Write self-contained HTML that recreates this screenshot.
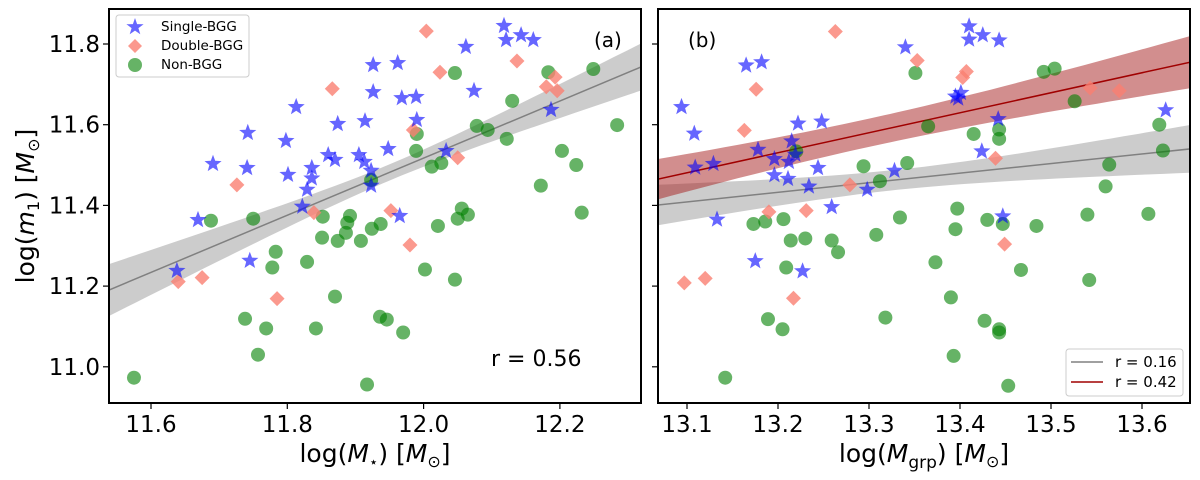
<!DOCTYPE html>
<html><head><meta charset="utf-8"><style>
html,body{margin:0;padding:0;background:#fff;}
svg{display:block;font-family:"DejaVu Sans","Liberation Sans",sans-serif;}
</style></head><body>
<svg id="fig" width="1200" height="480" viewBox="0 0 1200 480" xmlns="http://www.w3.org/2000/svg">
<g id="pa"></g>
<g id="pb"></g>
</svg>
<script>
// ---- Panel (a) data: log(M*) vs log(m1)
const aStarX=[11.691,11.742,11.741,11.813,11.798,11.801,11.836,11.836,11.829,11.822,11.669,11.860,11.870,11.874,11.914,11.926,11.926,11.905,11.913,11.923,11.923,11.962,11.948,11.968,11.989,11.990,11.965,12.033,12.062,12.074,12.118,12.121,12.143,12.161,12.187,11.638,11.745];
const aStarY=[11.503,11.580,11.493,11.644,11.560,11.476,11.493,11.467,11.439,11.397,11.364,11.525,11.513,11.602,11.609,11.748,11.681,11.525,11.508,11.486,11.449,11.753,11.540,11.666,11.669,11.612,11.374,11.535,11.793,11.684,11.845,11.810,11.822,11.810,11.637,11.238,11.263];
const aDiaX=[12.004,12.024,11.866,11.726,11.985,12.050,12.137,12.180,12.193,12.196,11.839,11.952,11.640,11.675,11.785,11.980];
const aDiaY=[11.832,11.730,11.689,11.451,11.587,11.518,11.758,11.694,11.718,11.684,11.382,11.387,11.211,11.221,11.169,11.302];
const aCirX=[12.046,12.130,12.183,12.249,12.284,12.078,12.094,12.122,11.990,11.989,12.012,12.026,11.923,12.172,12.203,12.224,12.232,11.688,11.750,11.852,11.892,12.056,12.065,12.050,11.886,11.888,11.924,11.937,12.021,11.851,11.874,11.908,11.783,11.778,11.829,12.002,12.046,11.870,11.738,11.769,11.842,11.936,11.946,11.970,11.757,11.575,11.917];
const aCirY=[11.728,11.659,11.730,11.738,11.599,11.597,11.587,11.565,11.577,11.535,11.496,11.505,11.463,11.449,11.535,11.500,11.382,11.362,11.367,11.372,11.374,11.392,11.377,11.367,11.332,11.357,11.342,11.354,11.349,11.320,11.312,11.312,11.285,11.246,11.260,11.241,11.216,11.174,11.119,11.095,11.095,11.124,11.117,11.085,11.030,10.973,10.956];
const aFit=[11.538,11.19,12.319,11.743]; // x0,y0,x1,y1
const aBand=[11.95,0.02,0.022]; // center, min half-width, curvature
// ---- Panel (b) data: log(Mgrp) vs log(m1)
const bStarX=[13.094,13.108,13.165,13.182,13.109,13.129,13.178,13.196,13.215,13.212,13.222,13.248,13.196,13.211,13.219,13.244,13.234,13.259,13.298,13.328,13.340,13.395,13.401,13.398,13.410,13.410,13.425,13.443,13.442,13.424,13.626,13.447,13.133,13.175,13.227];
const bStarY=[11.644,11.578,11.747,11.755,11.494,11.503,11.538,11.515,11.559,11.508,11.603,11.608,11.475,11.466,11.526,11.493,11.447,11.396,11.439,11.486,11.792,11.670,11.679,11.665,11.844,11.811,11.822,11.809,11.614,11.534,11.636,11.373,11.365,11.262,11.237];
const bDiaX=[13.263,13.176,13.163,13.353,13.403,13.407,13.543,13.575,13.439,13.279,13.190,13.231,13.097,13.120,13.217,13.449];
const bDiaY=[11.831,11.688,11.586,11.759,11.717,11.732,11.691,11.684,11.517,11.451,11.384,11.387,11.208,11.219,11.170,11.304];
const bCirX=[13.351,13.492,13.504,13.526,13.365,13.415,13.443,13.443,13.619,13.623,13.564,13.560,13.220,13.294,13.342,13.312,13.397,13.173,13.186,13.206,13.334,13.430,13.447,13.484,13.540,13.607,13.214,13.230,13.259,13.266,13.308,13.395,13.373,13.467,13.542,13.209,13.390,13.189,13.205,13.318,13.427,13.443,13.443,13.393,13.142,13.453];
const bCirY=[11.728,11.731,11.739,11.658,11.596,11.577,11.588,11.565,11.600,11.536,11.501,11.447,11.534,11.497,11.505,11.460,11.392,11.354,11.360,11.366,11.370,11.364,11.354,11.349,11.377,11.379,11.313,11.318,11.313,11.284,11.327,11.341,11.259,11.240,11.215,11.246,11.172,11.118,11.093,11.122,11.114,11.093,11.085,11.027,10.973,10.953];
const bGrayFit=[13.068,11.401,13.653,11.540];
const bGrayBand=[13.33,0.025,0.0277];
const bRedFit=[13.068,11.465,13.653,11.755];
const bRedBand=[13.30,0.035,0.0237];
const yTicks=[11.0,11.2,11.4,11.6,11.8];
const aXTicks=[11.6,11.8,12.0,12.2];
const bXTicks=[13.1,13.2,13.3,13.4,13.5,13.6];

const NS="http://www.w3.org/2000/svg";
function mk(tag,attrs,parent){const e=document.createElementNS(NS,tag);for(const k in attrs)e.setAttribute(k,attrs[k]);parent.appendChild(e);return e;}
const TOP=9,BOT=403;
function yS(v){return 44+(11.8-v)*403.5;}
const aX=v=>151+(v-11.6)*681.5;
const bX=v=>687+(v-13.1)*910;

function star(cx,cy,r){let p=[];for(let i=0;i<10;i++){const rr=i%2?r*0.42:r;const a=-Math.PI/2+i*Math.PI/5;p.push((cx+rr*Math.cos(a)).toFixed(1)+','+(cy+rr*Math.sin(a)).toFixed(1));}return p.join(' ');}

function drawBand(g,xs,fit,band,lineCol,fillCol,name){
  const [x0,y0,x1,y1]=fit,[xm,s0,k2]=band;
  const up=[],lo=[];
  for(let i=0;i<=40;i++){const x=x0+(x1-x0)*i/40;const y=y0+(y1-y0)*(x-x0)/(x1-x0);const h=Math.sqrt(s0*s0+k2*(x-xm)*(x-xm));
    up.push(xs(x).toFixed(1)+','+yS(y+h).toFixed(1));lo.unshift(xs(x).toFixed(1)+','+yS(y-h).toFixed(1));}
  const b=mk('polygon',{points:up.concat(lo).join(' '),fill:fillCol},g);
  
  
  const l=mk('line',{x1:xs(x0),y1:yS(y0),x2:xs(x1),y2:yS(y1),stroke:lineCol,'stroke-width':1.5},g);
  
  
}
function drawPts(g,xs,X,Y,kind){
  for(let i=0;i<X.length;i++){
    const cx=xs(X[i]),cy=yS(Y[i]);let e;
    if(kind==='star'){e=mk('polygon',{points:star(cx,cy,9),fill:'#0000ff','fill-opacity':0.6},g);}
    else if(kind==='dia'){e=mk('polygon',{points:`${cx},${cy-7.5} ${cx+7.5},${cy} ${cx},${cy+7.5} ${cx-7.5},${cy}`,fill:'#fa8072','fill-opacity':0.8},g);}
    else {e=mk('circle',{cx:cx,cy:cy,r:7,fill:'#008000','fill-opacity':0.6},g);}
    
    
  }
}
function axes(g,L,R,xs,xt,ylabels){
  for(const v of xt){const x=xs(v);
    mk('line',{x1:x,y1:BOT,x2:x,y2:BOT+6,stroke:'#000','stroke-width':1.2},g);
    const t=mk('text',{x:x,y:432,'font-size':23,'text-anchor':'middle',fill:'#000'},g);t.textContent=v.toFixed(1);
    
    }
  for(const v of yTicks){const y=yS(v);
    mk('line',{x1:L-6,y1:y,x2:L,y2:y,stroke:'#000','stroke-width':1.2},g);
    if(ylabels){const t=mk('text',{x:L-9,y:y+8,'font-size':23,'text-anchor':'end',fill:'#000'},g);t.textContent=v.toFixed(1);
      
      }}
  const f=mk('rect',{x:L,y:TOP,width:R-L,height:BOT-TOP,fill:'none',stroke:'#000','stroke-width':2},g);
  
  
}
const pa=document.getElementById('pa'),pb=document.getElementById('pb');
const defs=mk('defs',{},document.getElementById('fig'));
const ca=mk('clipPath',{id:'ca'},defs);mk('rect',{x:109,y:TOP,width:532,height:BOT-TOP},ca);
const cb=mk('clipPath',{id:'cb'},defs);mk('rect',{x:658,y:TOP,width:532,height:BOT-TOP},cb);
const ga=mk('g',{'clip-path':'url(#ca)'},pa);
drawBand(ga,aX,aFit,aBand,'#808080','rgba(128,128,128,0.4)','panel-a');
drawPts(ga,aX,aCirX,aCirY,'cir');drawPts(ga,aX,aDiaX,aDiaY,'dia');drawPts(ga,aX,aStarX,aStarY,'star');
axes(pa,109,641,aX,aXTicks,true);
const gb=mk('g',{'clip-path':'url(#cb)'},pb);
drawBand(gb,bX,bGrayFit,bGrayBand,'#808080','rgba(128,128,128,0.4)','panel-b-all');
drawBand(gb,bX,bRedFit,bRedBand,'#a00000','rgba(165,30,30,0.5)','panel-b-bgg');
drawPts(gb,bX,bCirX,bCirY,'cir');drawPts(gb,bX,bDiaX,bDiaY,'dia');drawPts(gb,bX,bStarX,bStarY,'star');
axes(pb,658,1190,bX,bXTicks,false);
</script>
<div style="position:absolute;left:0;top:0;width:1200px;height:480px;pointer-events:none;">
<svg width="1200" height="480" viewBox="0 0 1200 480" style="position:absolute;left:0;top:0;font-family:'DejaVu Sans','Liberation Sans',sans-serif;">
  <g>
    <rect x="116" y="15" width="133" height="62" rx="3" fill="#fff" fill-opacity="0.85" stroke="#ccc" stroke-width="1"/>
    <polygon points="135,18 137.1,24.1 143.6,24.2 138.4,28.1 140.3,34.3 135,30.6 129.7,34.3 131.6,28.1 126.4,24.2 132.9,24.1" fill="#0000ff" fill-opacity="0.6"/>
    <text x="161" y="31" font-size="13.5">Single-BGG</text>
    <polygon points="135,39 142,46 135,53 128,46" fill="#fa8072" fill-opacity="0.8"/>
    <text x="161" y="50" font-size="13.5">Double-BGG</text>
    <circle cx="135" cy="65" r="7" fill="#008000" fill-opacity="0.6"/>
    <text x="161" y="69" font-size="13.5">Non-BGG</text>
  </g>
  <text x="594" y="47" font-size="20">(a)</text>
  <text x="688" y="47" font-size="20">(b)</text>
  <text x="491" y="366" font-size="22">r = 0.56</text>
  <g>
    <rect x="1066" y="349" width="117" height="47" rx="3" fill="#fff" fill-opacity="0.85" stroke="#ccc" stroke-width="1"/>
    <line x1="1071" y1="362" x2="1103" y2="362" stroke="#808080" stroke-width="1.5"/>
    <text x="1115" y="367" font-size="15">r = 0.16</text>
    <line x1="1071" y1="382" x2="1103" y2="382" stroke="#a00000" stroke-width="1.5"/>
    <text x="1115" y="387" font-size="15">r = 0.42</text>
  </g>
  <text x="375" y="462" font-size="25" text-anchor="middle">log(<tspan font-style="italic">M</tspan><tspan font-size="15" dy="5">⋆</tspan><tspan dy="-5">) [</tspan><tspan font-style="italic">M</tspan><tspan font-size="16" dy="5">⊙</tspan><tspan dy="-5">]</tspan></text>
  <text x="924" y="462" font-size="25" text-anchor="middle">log(<tspan font-style="italic">M</tspan><tspan font-size="17" dy="6">grp</tspan><tspan dy="-6">) [</tspan><tspan font-style="italic">M</tspan><tspan font-size="16" dy="5">⊙</tspan><tspan dy="-5">]</tspan></text>
  <text transform="translate(34,206) rotate(-90)" font-size="25" text-anchor="middle">log(<tspan font-style="italic">m</tspan><tspan font-size="16" dy="5">1</tspan><tspan dy="-5">) [</tspan><tspan font-style="italic">M</tspan><tspan font-size="16" dy="5">⊙</tspan><tspan dy="-5">]</tspan></text>
</svg>
</div>
</body></html>
